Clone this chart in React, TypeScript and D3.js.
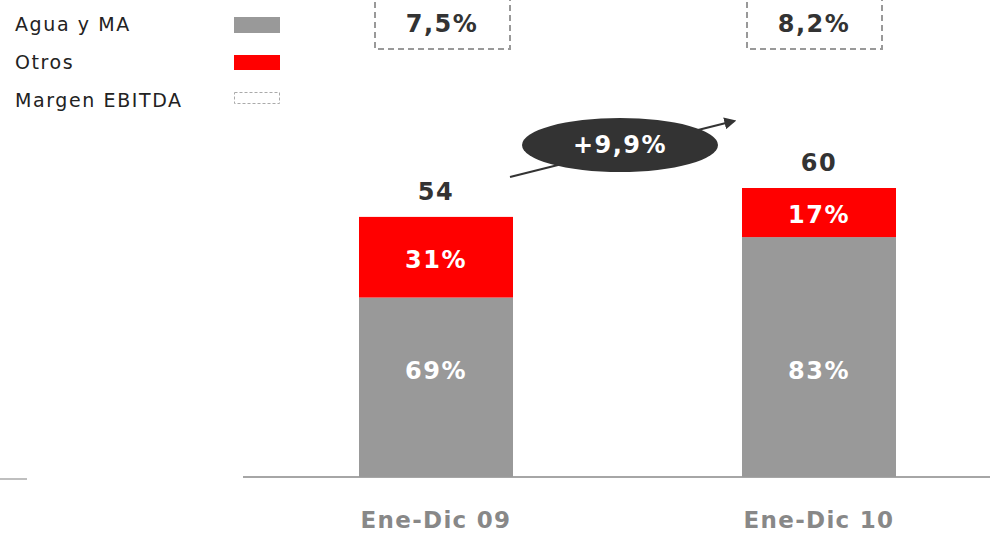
import React from "react";
import * as d3 from "d3";

const categories = ["Ene-Dic 09", "Ene-Dic 10"];
const totals = [54, 60];
const aguaShare = [69, 83];
const otrosShare = [31, 17];
const margenLabels = ["7,5%", "8,2%"];
const growthLabel = "+9,9%";
const legendItems = ["Agua y MA", "Otros", "Margen EBITDA"];

const W = 990;
const H = 533;
const GRAY = "#999999";
const RED = "#ff0000";
const DARK = "#333333";
const FONT = "'DejaVu Sans', Verdana, sans-serif";

export default function App() {
  const x = d3.scalePoint<string>().domain(categories).range([436, 819]);
  const xBox = d3.scalePoint<string>().domain(categories).range([442, 814]);
  const bw = 154;
  const xc = (c: string) => x(c) as number;
  const y = d3.scaleLinear().domain([0, 60]).range([477, 188]);

  return (
    <svg width={W} height={H} style={{ position: "absolute", left: 0, top: 0 }} fontFamily={FONT}>
      {legendItems.map((t, i) => (
        <text key={t} x={15} y={[31, 69, 107][i]} fontSize={19} letterSpacing={1.6} fill="#222">{t}</text>
      ))}
      <rect x={234} y={17} width={46} height={16} fill={GRAY} />
      <rect x={234} y={55} width={46} height={15} fill={RED} />
      <rect x={234.5} y={92.5} width={45} height={11} fill="none" stroke="#aaa" strokeWidth={1} strokeDasharray="3,2" />

      <line x1={243} x2={990} y1={477} y2={477} stroke="#888" strokeWidth={1.5} />
      <line x1={0} x2={27} y1={479} y2={479} stroke="#aaa" strokeWidth={1.5} />

      {categories.map((c, i) => {
        const cx = xc(c);
        const bx = xBox(c) as number;
        const top = y(totals[i]);
        const mid = y(totals[i] * aguaShare[i] / 100);
        return (
          <g key={c}>
            <rect x={cx - bw / 2} y={mid} width={bw} height={y(0) - mid} fill={GRAY} />
            <rect x={cx - bw / 2} y={top} width={bw} height={mid - top} fill={RED} />
            <text x={cx} y={371} dy="0.35em" textAnchor="middle" fontSize={24} fontWeight="bold" letterSpacing={1.5} fill="#fff">{aguaShare[i]}%</text>
            <text x={cx} y={(top + mid) / 2 + 2} dy="0.35em" textAnchor="middle" fontSize={24} fontWeight="bold" letterSpacing={1.5} fill="#fff">{otrosShare[i]}%</text>
            <text x={cx} y={top - 25} dy="0.35em" textAnchor="middle" fontSize={24} fontWeight="bold" letterSpacing={1.5} fill={DARK}>{totals[i]}</text>
            <text x={cx} y={520} dy="0.35em" textAnchor="middle" fontSize={23} fontWeight="bold" letterSpacing={1.3} fill="#888">{c}</text>
            <rect x={bx - 67} y={-10} width={135} height={59} fill="none" stroke="#999" strokeWidth={2} strokeDasharray="6,4" />
            <text x={bx} y={24} dy="0.35em" textAnchor="middle" fontSize={24} fontWeight="bold" letterSpacing={1.5} fill={DARK}>{margenLabels[i]}</text>
          </g>
        );
      })}

      <defs>
        <marker id="ah" viewBox="0 0 10 10" refX="8" refY="5" markerWidth="6" markerHeight="6" orient="auto">
          <path d="M0,0 L10,5 L0,10 z" fill={DARK} />
        </marker>
      </defs>
      <line x1={510} y1={177} x2={734} y2={121} stroke={DARK} strokeWidth={2} markerEnd="url(#ah)" />
      <ellipse cx={620} cy={145} rx={98} ry={27} fill={DARK} />
      <text x={620} y={145} dy="0.35em" textAnchor="middle" fontSize={24} fontWeight="bold" letterSpacing={1.5} fill="#fff">{growthLabel}</text>
    </svg>
  );
}
